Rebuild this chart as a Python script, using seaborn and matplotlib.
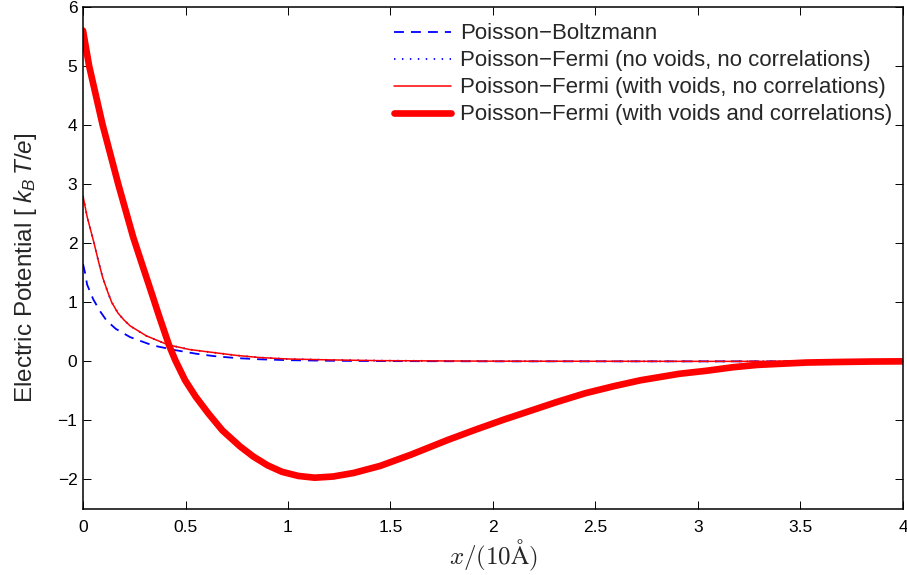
import matplotlib
matplotlib.use("Agg")
import matplotlib.pyplot as plt
import seaborn as sns
import pandas as pd

# Poisson-Boltzmann
pb_x = [0.0, 0.01, 0.02, 0.05, 0.085, 0.115, 0.16, 0.23, 0.34, 0.45, 0.55, 0.635, 0.75, 0.86, 1.0, 1.2, 1.5, 2.0, 3.0, 4.0]
pb_y = [1.65, 1.50, 1.30, 1.05, 0.84, 0.69, 0.55, 0.41, 0.27, 0.19, 0.13, 0.09, 0.055, 0.035, 0.02, 0.01, 0.004, 0.0, 0.0, 0.0]

# Poisson-Fermi (no voids, no correlations)
pf_nv_x = [0.0, 0.02, 0.054, 0.075, 0.096, 0.12, 0.14, 0.17, 0.20, 0.23, 0.31, 0.415, 0.52, 0.635, 0.75, 0.86, 1.0, 1.2, 1.45, 2.0, 3.0, 4.0]
pf_nv_y = [2.80, 2.45, 2.00, 1.70, 1.42, 1.18, 1.00, 0.82, 0.70, 0.60, 0.43, 0.28, 0.20, 0.15, 0.10, 0.065, 0.04, 0.025, 0.012, 0.003, 0.0, 0.0]

# Poisson-Fermi (with voids, no correlations)
pf_v_x = [0.0, 0.02, 0.054, 0.075, 0.096, 0.12, 0.14, 0.17, 0.20, 0.23, 0.31, 0.415, 0.52, 0.635, 0.75, 0.86, 1.0, 1.2, 1.45, 2.0, 3.0, 4.0]
pf_v_y = [2.80, 2.45, 2.00, 1.70, 1.42, 1.18, 1.00, 0.82, 0.70, 0.60, 0.43, 0.28, 0.20, 0.15, 0.10, 0.065, 0.04, 0.025, 0.012, 0.003, 0.0, 0.0]

# Poisson-Fermi (with voids and correlations)
pf_c_x = [0.0, 0.03, 0.096, 0.172, 0.245, 0.30, 0.34, 0.37, 0.42, 0.45, 0.498, 0.55, 0.611, 0.68, 0.766, 0.83, 0.90, 0.97, 1.05, 1.13, 1.22, 1.32, 1.45, 1.6, 1.78, 1.92, 2.05, 2.18, 2.31, 2.45, 2.59, 2.72, 2.91, 3.04, 3.17, 3.29, 3.41, 3.53, 3.7, 3.85, 4.0]
pf_c_y = [5.60, 5.00, 4.00, 3.00, 2.10, 1.52, 1.10, 0.78, 0.27, 0.02, -0.32, -0.60, -0.88, -1.17, -1.44, -1.61, -1.76, -1.87, -1.94, -1.97, -1.95, -1.89, -1.77, -1.58, -1.33, -1.15, -0.99, -0.84, -0.69, -0.54, -0.42, -0.32, -0.21, -0.16, -0.10, -0.06, -0.04, -0.02, -0.01, -0.003, 0.0]

labels = ["Poisson\u2212Boltzmann",
          "Poisson\u2212Fermi (no voids, no correlations)",
          "Poisson\u2212Fermi (with voids, no correlations)",
          "Poisson\u2212Fermi (with voids and correlations)"]

xticks = [0, 0.5, 1, 1.5, 2, 2.5, 3, 3.5, 4]
xtick_labels = ["0", "0.5", "1", "1.5", "2", "2.5", "3", "3.5", "4"]
yticks = [-2, -1, 0, 1, 2, 3, 4, 5, 6]

sns.set_style("ticks")
plt.rcParams['font.family'] = ['Liberation Sans', 'DejaVu Sans']
plt.rcParams['mathtext.fontset'] = 'custom'
plt.rcParams['mathtext.rm'] = 'Liberation Sans'
plt.rcParams['mathtext.it'] = 'Liberation Sans:italic'
plt.rcParams['mathtext.bf'] = 'Liberation Sans:bold'

fig = plt.figure(figsize=(9.07, 5.75), dpi=100)
ax = fig.add_axes([83 / 907, 1 - 509 / 575, 820 / 907, 502 / 575])

sns.lineplot(x=pb_x, y=pb_y, ax=ax, color="#0000ff", linewidth=1.3,
             linestyle=(0, (5.5, 3.9)), label=labels[0], sort=False, estimator=None)
sns.lineplot(x=pf_nv_x, y=pf_nv_y, ax=ax, color="#0000ff", linewidth=1.3,
             linestyle=(0, (0.8, 3.6)), label=labels[1], sort=False, estimator=None)
sns.lineplot(x=pf_v_x, y=pf_v_y, ax=ax, color="#ff0000", linewidth=1.1,
             linestyle="-", label=labels[2], sort=False, estimator=None)
sns.lineplot(x=pf_c_x, y=pf_c_y, ax=ax, color="#ff0000", linewidth=4.8,
             linestyle="-", label=labels[3], sort=False, estimator=None,
             solid_joinstyle="round")

ax.set_xlim(0, 4)
ax.set_ylim(-2.5, 6)
ax.set_xticks(xticks)
ax.set_xticklabels(xtick_labels)
ax.set_yticks(yticks)
ax.tick_params(direction="in", top=True, right=True, length=6, width=0.7,
               labelsize=12.5, colors="black")
ax.tick_params(axis="x", pad=8)
ax.tick_params(axis="y", pad=4)
for s in ax.spines.values():
    s.set_visible(True)
    s.set_linewidth(1.1)
    s.set_color("black")

ax.set_xlabel(r"$x/(10\mathrm{\AA})$", fontsize=18, math_fontfamily="cm")
ax.xaxis.set_label_coords(0.5, -0.058)
ax.set_ylabel(r"Electric Potential [ $k_B\,T/e$]", fontsize=17.5)
ax.yaxis.set_label_coords(-0.054, 0.48)

leg = ax.legend(loc="upper right", frameon=False, fontsize=16,
                handlelength=2.6, handletextpad=0.4, labelspacing=0.27,
                borderaxespad=0.0, bbox_to_anchor=(0.998, 0.985))

fig.savefig("out.png", dpi=100)
